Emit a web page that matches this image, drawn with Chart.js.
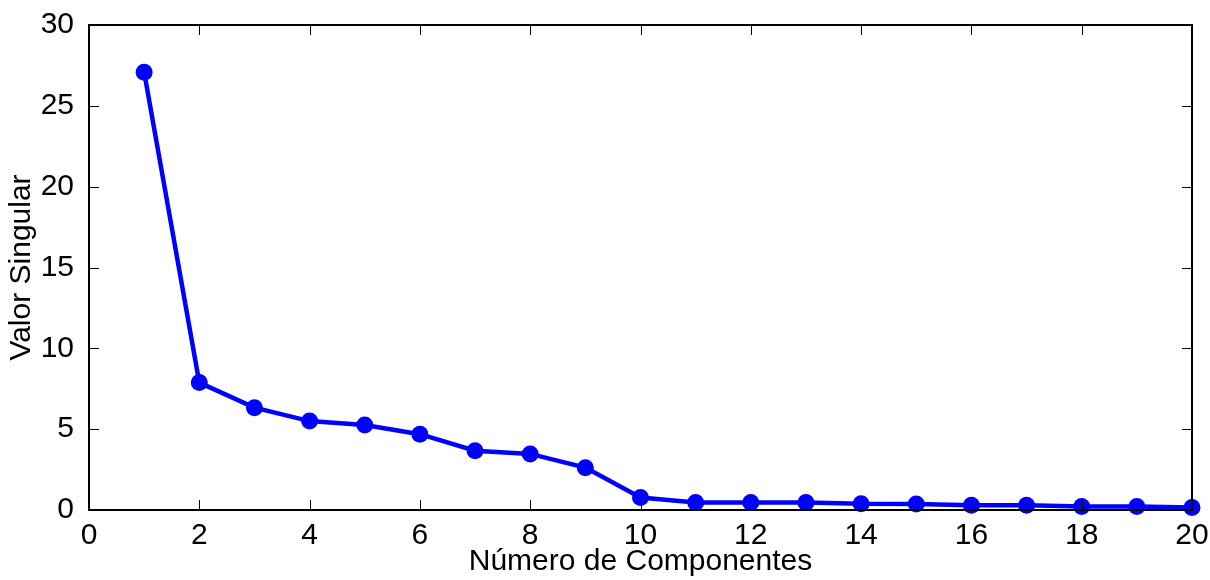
<!DOCTYPE html>
<html>
<head>
<meta charset="utf-8">
<script src="https://cdn.jsdelivr.net/npm/chart.js@4"></script>
<style>
  html, body { margin: 0; padding: 0; background: #fff; }
  #wrap { width: 1210px; height: 580px; }
</style>
</head>
<body>
<div id="wrap"><canvas id="svChart" width="1210" height="580"></canvas></div>
<script>
// singular values per component
var components = [1,2,3,4,5,6,7,8,9,10,11,12,13,14,15,16,17,18,19,20];
var singularValues = [27.08,7.88,6.33,5.5,5.26,4.69,3.67,3.47,2.62,0.77,0.47,0.47,0.47,0.38,0.37,0.3,0.29,0.22,0.22,0.15];
var xTicks = [0,2,4,6,8,10,12,14,16,18,20];
var yTicks = [0,5,10,15,20,25,30];

// box around the plot with short inward ticks on all four sides
var boxTicks = {
  id: 'boxTicks',
  afterDraw: function(chart) {
    var ctx = chart.ctx, a = chart.chartArea;
    var xs = chart.scales.x, ys = chart.scales.y;
    var len = 10;
    ctx.save();
    ctx.strokeStyle = '#000';
    ctx.lineWidth = 1;
    xTicks.forEach(function(v){
      var px = Math.round(xs.getPixelForValue(v)) + 0.5;
      ctx.beginPath();
      ctx.moveTo(px, a.bottom); ctx.lineTo(px, a.bottom - len);
      ctx.moveTo(px, a.top); ctx.lineTo(px, a.top + len);
      ctx.stroke();
    });
    yTicks.forEach(function(v){
      var py = Math.round(ys.getPixelForValue(v)) + 0.5;
      ctx.beginPath();
      ctx.moveTo(a.left, py); ctx.lineTo(a.left + len, py);
      ctx.moveTo(a.right, py); ctx.lineTo(a.right - len, py);
      ctx.stroke();
    });
    ctx.lineWidth = 2;
    ctx.strokeRect(a.left, a.top, a.right - a.left, a.bottom - a.top);
    ctx.restore();
  }
};

var font = { family: 'Liberation Sans, Arial, sans-serif', size: 30 };

new Chart(document.getElementById('svChart').getContext('2d'), {
  type: 'line',
  data: {
    datasets: [{
      data: components.map(function(c, i){ return { x: c, y: singularValues[i] }; }),
      borderColor: '#0000ff',
      backgroundColor: '#0000ff',
      borderWidth: 4.5,
      pointRadius: 8.5,
      pointBackgroundColor: '#0000ff',
      pointBorderWidth: 0,
      tension: 0,
      clip: false
    }]
  },
  plugins: [boxTicks],
  options: {
    responsive: false,
    animation: false,
    layout: { padding: { top: 25, right: 18, left: 0, bottom: 0 } },
    plugins: { legend: { display: false }, tooltip: { enabled: false } },
    scales: {
      x: {
        type: 'linear', min: 0, max: 20,
        afterBuildTicks: function(s){ s.ticks = xTicks.map(function(v){ return { value: v }; }); },
        afterFit: function(s){ s.height = 70; },
        grid: { display: false },
        border: { display: false },
        ticks: { color: '#000', font: font, padding: 0, maxRotation: 0 },
        title: { display: true, text: 'Número de Componentes', color: '#000', font: font, padding: { top: -2, bottom: 0 } }
      },
      y: {
        min: 0, max: 30,
        afterBuildTicks: function(s){ s.ticks = yTicks.map(function(v){ return { value: v }; }); },
        afterFit: function(s){ s.width = 89; },
        grid: { display: false },
        border: { display: false },
        ticks: { color: '#000', font: font, padding: 7 },
        title: { display: true, text: 'Valor Singular', color: '#000', font: font, padding: { top: 4, bottom: 0 } }
      }
    }
  }
});
</script>
</body>
</html>
